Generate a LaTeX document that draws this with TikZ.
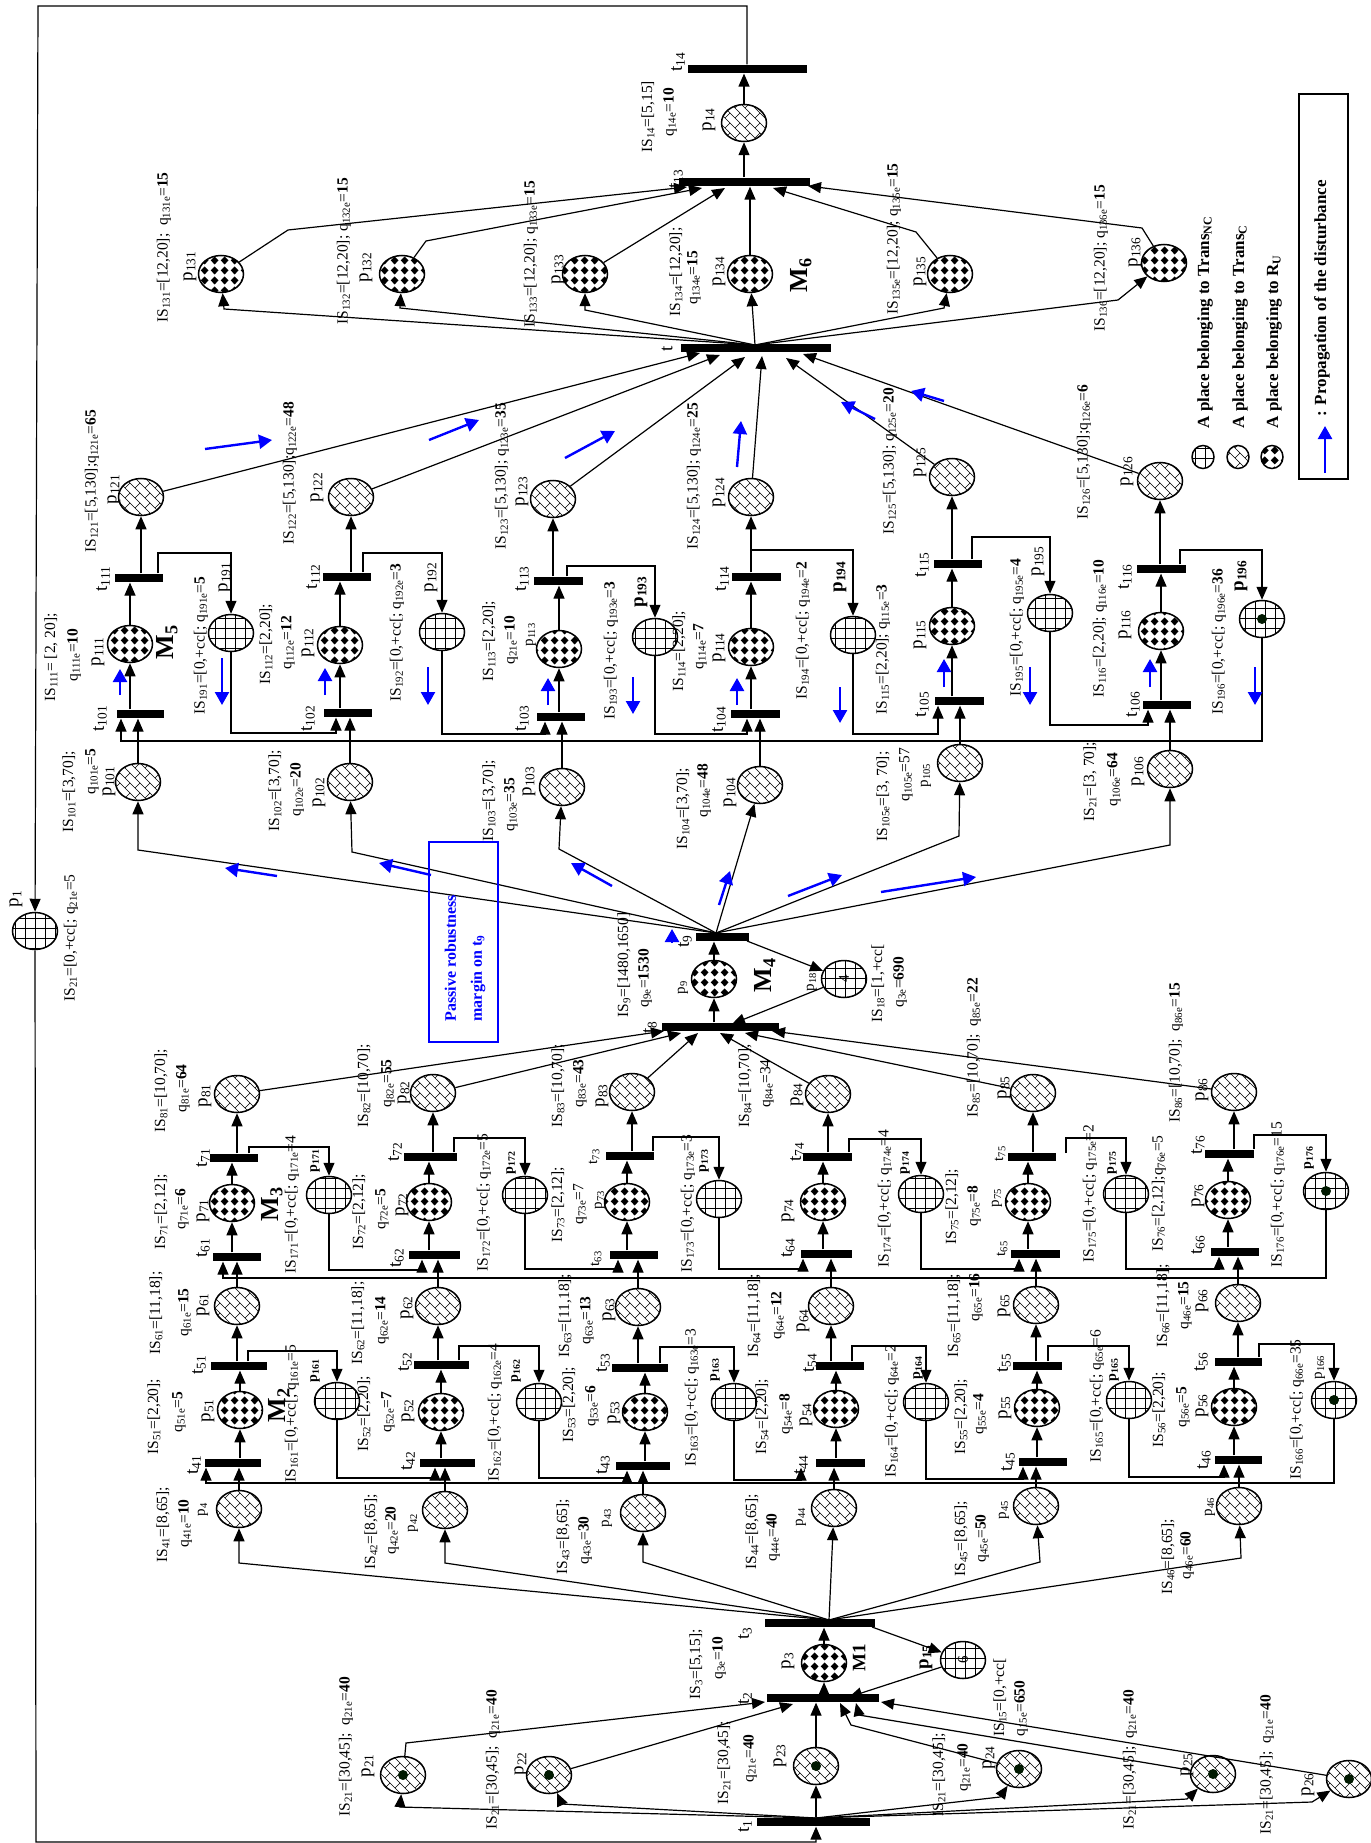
\documentclass[tikz,border=0pt]{standalone}
\usepackage{fontspec}
\setmainfont{Liberation Serif}
\usepackage{tikz}
\usepackage{xcolor}
\usetikzlibrary{arrows.meta}
\usetikzlibrary{patterns}
\usetikzlibrary{shapes.geometric}

\pgfdeclarepatternformonly{cellgrid}{\pgfqpoint{-1pt}{-1pt}}{\pgfqpoint{11pt}{11pt}}{\pgfqpoint{10pt}{10pt}}{
    \pgfsetlinewidth{0.8pt}
    \pgfpathmoveto{\pgfqpoint{0pt}{5pt}}
    \pgfpathlineto{\pgfqpoint{10pt}{5pt}}
    \pgfpathmoveto{\pgfqpoint{5pt}{0pt}}
    \pgfpathlineto{\pgfqpoint{5pt}{10pt}}
    \pgfusepath{stroke}
}
\pgfdeclarepatternformonly{cellbrick}{\pgfqpoint{-1pt}{-1pt}}{\pgfqpoint{11pt}{11pt}}{\pgfqpoint{10pt}{10pt}}{
    \pgfsetlinewidth{0.6pt}
    \pgfpathmoveto{\pgfqpoint{0pt}{10pt}}
    \pgfpathlineto{\pgfqpoint{10pt}{0pt}}
    \pgfpathmoveto{\pgfqpoint{5pt}{5pt}}
    \pgfpathlineto{\pgfqpoint{10pt}{10pt}}
    \pgfusepath{stroke}
}
\pgfdeclarepatternformonly{celldiam}{\pgfqpoint{0pt}{0pt}}{\pgfqpoint{10pt}{9.5pt}}{\pgfqpoint{10pt}{9.5pt}}{
    \pgfpathmoveto{\pgfqpoint{5pt}{0.6pt}}
    \pgfpathlineto{\pgfqpoint{9.2pt}{4.75pt}}
    \pgfpathlineto{\pgfqpoint{5pt}{8.9pt}}
    \pgfpathlineto{\pgfqpoint{0.8pt}{4.75pt}}
    \pgfpathclose
    \pgfusepath{fill}
}
\newcommand{\sbs}[1]{\textsubscript{#1}}

\begin{document}
\begin{tikzpicture}[x=1pt,y=-1pt,>={Triangle[length=13pt,width=11pt]},line width=1.2pt,
    plcbase/.style={ellipse,draw,line width=1.5pt,inner sep=0pt,minimum width=45pt,minimum height=37pt},
    pbrick/.style={plcbase,pattern=cellbrick},
    pcell/.style={plcbase,pattern=cellgrid},
    pdiam/.style={plcbase,pattern=celldiam},
    legbrick/.style={pbrick,minimum width=22pt,minimum height=23pt},
    legcell/.style={pcell,minimum width=22pt,minimum height=23pt},
    legdiam/.style={pdiam,minimum width=22pt,minimum height=23pt},
    marked/.style={path picture={\fill [black!90!green] (path picture bounding box.center) circle (5pt);}},
    tr/.style={rectangle,fill=black,inner sep=0pt,minimum width=#1,minimum height=8pt},
    tr/.default=50pt,
    lbl/.style={rotate=90,anchor=west,inner sep=0pt,font=\fontsize{15.5}{15.5}\selectfont},
    plc/.style={rotate=90,anchor=west,inner sep=0pt,font=\fontsize{19}{19}\selectfont},
    plcs/.style={rotate=90,anchor=west,inner sep=0pt,font=\fontsize{15}{15}\selectfont},
    plcb/.style={rotate=90,anchor=west,inner sep=0pt,font=\fontsize{14}{14}\selectfont\bfseries},
    plcB/.style={rotate=90,anchor=west,inner sep=0pt,font=\fontsize{19}{19}\selectfont\bfseries},
    mach/.style={rotate=90,anchor=west,inner sep=0pt,font=\fontsize{26}{26}\selectfont\bfseries},
    dist/.style={->,blue,line width=2.4pt,>={Triangle[length=13pt,width=14pt]}},
    distbox/.style={draw=blue,rectangle,line width=1.3pt,minimum width=69pt,minimum height=200pt},
    distlbl/.style={rotate=90,anchor=west,inner sep=0pt,blue,align=left,font=\fontsize{16}{26}\selectfont\bfseries},
    leglbl/.style={rotate=90,anchor=west,inner sep=0pt,font=\fontsize{17}{17}\selectfont\bfseries}]
    \useasboundingbox (0,0) rectangle (1370,1843);

    \path (35,931) node [pcell] (p1) {};
    \path (403,1775) node [pbrick,marked] (p21) {};
    \path (549,1775) node [pbrick,marked] (p22) {};
    \path (816,1766) node [pbrick,marked] (p23) {};
    \path (1019,1769) node [pbrick,marked] (p24) {};
    \path (1213,1774) node [pbrick,marked] (p25) {};
    \path (1349,1779) node [pbrick,marked] (p26) {};
    \path (824,1663) node [pdiam] (p3) {};
    \path (963,1660) node [pcell] (p15) {};
    \path (813,1822) node [tr=113pt] (t1) {};
    \path (823,1698) node [tr=112pt] (t2) {};
    \path (820,1623) node [tr=110pt] (t3) {};

    \path (239,1509) node [pbrick] (p41) {};
    \path (445,1510) node [pbrick] (p42) {};
    \path (643,1513) node [pbrick] (p43) {};
    \path (834,1508) node [pbrick] (p44) {};
    \path (1036,1506) node [pbrick] (p45) {};
    \path (1239,1506) node [pbrick] (p46) {};
    \path (233,1463) node [tr=56pt] (t41) {};
    \path (447,1463) node [tr=55pt] (t42) {};
    \path (643,1466) node [tr=54pt] (t43) {};
    \path (840,1463) node [tr=49pt] (t44) {};
    \path (1043,1462) node [tr=48pt] (t45) {};
    \path (1238,1460) node [tr=47pt] (t46) {};

    \path (240,1410) node [pdiam] (p51) {};
    \path (441,1412) node [pdiam] (p52) {};
    \path (645,1412) node [pdiam] (p53) {};
    \path (836,1409) node [pdiam] (p54) {};
    \path (1037,1408) node [pdiam] (p55) {};
    \path (1234,1407) node [pdiam] (p56) {};
    \path (337,1401) node [pcell] (p161) {};
    \path (539,1402) node [pcell] (p162) {};
    \path (734,1402) node [pcell] (p163) {};
    \path (926,1402) node [pcell] (p164) {};
    \path (1129,1400) node [pcell] (p165) {};
    \path (1334,1400) node [pcell,marked] (p166) {};
    \path (239,1366) node [tr=56pt] (t51) {};
    \path (441,1365) node [tr=55pt] (t52) {};
    \path (640,1368) node [tr=56pt] (t53) {};
    \path (840,1366) node [tr=48pt] (t54) {};
    \path (1037,1366) node [tr=49pt] (t55) {};
    \path (1238,1362) node [tr=47pt] (t56) {};

    \path (237,1306) node [pbrick] (p61) {};
    \path (438,1306) node [pbrick] (p62) {};
    \path (638,1307) node [pbrick] (p63) {};
    \path (831,1306) node [pbrick] (p64) {};
    \path (1036,1305) node [pbrick] (p65) {};
    \path (1238,1303) node [pbrick] (p66) {};
    \path (237,1257) node [tr=48pt] (t61) {};
    \path (434,1255) node [tr=51pt] (t62) {};
    \path (634,1255) node [tr=48pt] (t63) {};
    \path (826,1254) node [tr=51pt] (t64) {};
    \path (1035,1254) node [tr=49pt] (t65) {};
    \path (1235,1252) node [tr=48pt] (t66) {};

    \path (232,1203) node [pdiam] (p71) {};
    \path (429,1202) node [pdiam] (p72) {};
    \path (627,1202) node [pdiam] (p73) {};
    \path (823,1202) node [pdiam] (p74) {};
    \path (1028,1202) node [pdiam] (p75) {};
    \path (1228,1200) node [pdiam] (p76) {};
    \path (329,1195) node [pcell] (p171) {};
    \path (525,1195) node [pcell] (p172) {};
    \path (719,1199) node [pcell] (p173) {};
    \path (921,1194) node [pcell] (p174) {};
    \path (1126,1194) node [pcell] (p175) {};
    \path (1326,1191) node [pcell,marked] (p176) {};
    \path (234,1158) node [tr=48pt] (t71) {};
    \path (430,1157) node [tr=53pt] (t72) {};
    \path (630,1156) node [tr=48pt] (t73) {};
    \path (827,1157) node [tr=49pt] (t74) {};
    \path (1032,1157) node [tr=48pt] (t75) {};
    \path (1229,1154) node [tr=49pt] (t76) {};

    \path (237,1094) node [pbrick] (p81) {};
    \path (433,1093) node [pbrick] (p82) {};
    \path (632,1092) node [pbrick] (p83) {};
    \path (828,1094) node [pbrick] (p84) {};
    \path (1033,1093) node [pbrick] (p85) {};
    \path (1234,1092) node [pbrick] (p86) {};
    \path (720,1027) node [tr=117pt] (t8) {};
    \path (714,979) node [pdiam] (p9) {};
    \path (844,979) node [pcell] (p18) {};
    \path (722,937) node [tr=53pt] (t9) {};

    \path (138,782) node [pbrick] (p101) {};
    \path (350,782) node [pbrick] (p102) {};
    \path (562,787) node [pbrick] (p103) {};
    \path (760,785) node [pbrick] (p104) {};
    \path (960,763) node [pbrick] (p105) {};
    \path (1170,769) node [pbrick] (p106) {};
    \path (140,714) node [tr=47pt] (t101) {};
    \path (348,713) node [tr=48pt] (t102) {};
    \path (561,717) node [tr=48pt] (t103) {};
    \path (755,714) node [tr=49pt] (t104) {};
    \path (959,701) node [tr=49pt] (t105) {};
    \path (1167,705) node [tr=48pt] (t106) {};

    \path (130,644) node [pdiam] (p111) {};
    \path (340,645) node [pdiam] (p112) {};
    \path (559,649) node [pdiam] (p113) {};
    \path (751,647) node [pdiam] (p114) {};
    \path (952,626) node [pdiam] (p115) {};
    \path (1161,631) node [pdiam] (p116) {};
    \path (231,633) node [pcell] (p191) {};
    \path (442,632) node [pcell] (p192) {};
    \path (655,637) node [pcell] (p193) {};
    \path (853,635) node [pcell] (p194) {};
    \path (1050,613) node [pcell] (p195) {};
    \path (1262,619) node [pcell,marked] (p196) {};
    \path (139,578) node [tr=48pt] (t111) {};
    \path (347,577) node [tr=48pt] (t112) {};
    \path (558,581) node [tr=49pt] (t113) {};
    \path (756,577) node [tr=49pt] (t114) {};
    \path (958,564) node [tr=48pt] (t115) {};
    \path (1161,569) node [tr=49pt] (t116) {};

    \path (141,497) node [pbrick] (p121) {};
    \path (351,497) node [pbrick] (p122) {};
    \path (553,499) node [pbrick] (p123) {};
    \path (751,497) node [pbrick] (p124) {};
    \path (952,477) node [pbrick] (p125) {};
    \path (1160,481) node [pbrick] (p126) {};
    \path (756,348) node [tr=150pt] (t12) {};

    \path (221,274) node [pdiam] (p131) {};
    \path (402,274) node [pdiam] (p132) {};
    \path (585,274) node [pdiam] (p133) {};
    \path (750,274) node [pdiam] (p134) {};
    \path (950,274) node [pdiam] (p135) {};
    \path (1164,263) node [pdiam] (p136) {};
    \path (744,182) node [tr=131pt] (t13) {};
    \path (744,123) node [pbrick] (p14) {};
    \path (747,69) node [tr=119pt] (t14) {};

    \path (816,1842) coordinate (lo1) (36,1842) coordinate (lo2);
    \path (747,6) coordinate (hi1) (38,6) coordinate (hi2);
    \draw [->] (p1) -- (lo2) -- (lo1) -- (lo1 |- t1.south);
    \draw [->] (t14) -- (hi1) -- (hi2) -- (p1);

    \path (816,1818) coordinate (o1);
    \path (400,1807) coordinate (b21) (562,1804) coordinate (b22);
    \path (1000,1797) coordinate (b24) (1187,1799) coordinate (b25) (1312,1802) coordinate (b26);
    \draw [->] (o1) -- (b21) -- (p21);
    \draw [->] (o1) -- (b22) -- (p22);
    \draw [->] (t1.north -| p23) -- (p23);
    \draw [->] (o1) -- (b24) -- (p24);
    \draw [->] (o1) -- (b25) -- (p25);
    \draw [->] (o1) -- (b26) -- (p26);

    \path (406,1743) coordinate (c21) (765,1702) coordinate (d21);
    \path (793,1704) coordinate (d22);
    \path (851,1725) coordinate (c24) (840,1703) coordinate (d24);
    \path (859,1715) coordinate (c25) (856,1703) coordinate (d25);
    \path (881,1702) coordinate (d26) (849,1697) coordinate (d15);
    \draw [->] (p21) -- (c21) -- (d21);
    \draw [->] (p22) -- (d22);
    \draw [->] (p23) -- (p23 |- t2.south);
    \draw [->] (p24) -- (c24) -- (d24);
    \draw [->] (p25) -- (c25) -- (d25);
    \draw [->] (p26) -- (d26);
    \draw [->] (p15) -- (d15);
    \draw [->] (t2.north -| p3) -- (p3);
    \draw [->] (p3) -- (p3 |- t3.south);
    \path (872,1627) coordinate (o15);
    \draw [->] (o15) -- (p15);

    \path (829,1620) coordinate (o3);
    \path (239,1563) coordinate (b41) (445,1563) coordinate (b42) (643,1562) coordinate (b43);
    \path (1040,1562) coordinate (b45) (1241,1558) coordinate (b46);
    \draw [->] (o3) -- (b41) -- (p41);
    \draw [->] (o3) -- (b42) -- (p42);
    \draw [->] (o3) -- (b43) -- (p43);
    \draw [->] (o3) -- (p44);
    \draw [->] (o3) -- (b45) -- (p45);
    \draw [->] (o3) -- (b46) -- (p46);

    \draw [->] (p41) -- (p41 |- t41.south);
    \draw [->] (p42) -- (p42 |- t42.south);
    \draw [->] (p43) -- (p43 |- t43.south);
    \draw [->] (p44) -- (p44 |- t44.south);
    \draw [->] (p45) -- (p45 |- t45.south);
    \draw [->] (p46) -- (p46 |- t46.south);
    \draw [->] (t41.north -| p51) -- (p51);
    \draw [->] (t42.north -| p52) -- (p52);
    \draw [->] (t43.north -| p53) -- (p53);
    \draw [->] (t44.north -| p54) -- (p54);
    \draw [->] (t45.north -| p55) -- (p55);
    \draw [->] (t46.north -| p56) -- (p56);
    \draw [->] (p51) -- (p51 |- t51.south);
    \draw [->] (p52) -- (p52 |- t52.south);
    \draw [->] (p53) -- (p53 |- t53.south);
    \draw [->] (p54) -- (p54 |- t54.south);
    \draw [->] (p55) -- (p55 |- t55.south);
    \draw [->] (p56) -- (p56 |- t56.south);

    \path (206,1483) coordinate (r4);
    \path (435,1478) coordinate (g42) (627,1478) coordinate (g43) (801,1480) coordinate (g44);
    \path (1023,1479) coordinate (g45) (1224,1477) coordinate (g46);
    \draw [->] (p166) |- (r4) -- (r4 |- t41.south);
    \draw [->] (p161) |- (g42) -- (g42 |- t42.south);
    \draw [->] (p162) |- (g43) -- (g43 |- t43.south);
    \draw [->] (p163) |- (g44) -- (g44 |- t44.south);
    \draw [->] (p164) |- (g45) -- (g45 |- t45.south);
    \draw [->] (p165) |- (g46) -- (g46 |- t46.south);

    \path (248,1351) coordinate (f51) (459,1346) coordinate (f52) (660,1347) coordinate (f53);
    \path (852,1346) coordinate (f54) (1048,1346) coordinate (f55) (1259,1344) coordinate (f56);
    \draw [->] (t51.north -| f51) -- (f51) -| (p161);
    \draw [->] (t52.north -| f52) -- (f52) -| (p162);
    \draw [->] (t53.north -| f53) -- (f53) -| (p163);
    \draw [->] (t54.north -| f54) -- (f54) -| (p164);
    \draw [->] (t55.north -| f55) -- (f55) -| (p165);
    \draw [->] (t56.north -| f56) -- (f56) -| (p166);

    \draw [->] (t51.north -| p61) -- (p61);
    \draw [->] (t52.north -| p62) -- (p62);
    \draw [->] (t53.north -| p63) -- (p63);
    \draw [->] (t54.north -| p64) -- (p64);
    \draw [->] (t55.north -| p65) -- (p65);
    \draw [->] (t56.north -| p66) -- (p66);
    \draw [->] (p61) -- (p61 |- t61.south);
    \draw [->] (p62) -- (p62 |- t62.south);
    \draw [->] (p63) -- (p63 |- t63.south);
    \draw [->] (p64) -- (p64 |- t64.south);
    \draw [->] (p65) -- (p65 |- t65.south);
    \draw [->] (p66) -- (p66 |- t66.south);
    \draw [->] (t61.north -| p71) -- (p71);
    \draw [->] (t62.north -| p72) -- (p72);
    \draw [->] (t63.north -| p73) -- (p73);
    \draw [->] (t64.north -| p74) -- (p74);
    \draw [->] (t65.north -| p75) -- (p75);
    \draw [->] (t66.north -| p76) -- (p76);
    \draw [->] (p71) -- (p71 |- t71.south);
    \draw [->] (p72) -- (p72 |- t72.south);
    \draw [->] (p73) -- (p73 |- t73.south);
    \draw [->] (p74) -- (p74 |- t74.south);
    \draw [->] (p75) -- (p75 |- t75.south);
    \draw [->] (p76) -- (p76 |- t76.south);

    \path (223,1278) coordinate (r6);
    \path (422,1270) coordinate (g62) (618,1269) coordinate (g63) (803,1269) coordinate (g64);
    \path (1019,1269) coordinate (g65) (1219,1269) coordinate (g66);
    \draw [->] (p176) |- (r6) -- (r6 |- t61.south);
    \draw [->] (p171) |- (g62) -- (g62 |- t62.south);
    \draw [->] (p172) |- (g63) -- (g63 |- t63.south);
    \draw [->] (p173) |- (g64) -- (g64 |- t64.south);
    \draw [->] (p174) |- (g65) -- (g65 |- t65.south);
    \draw [->] (p175) |- (g66) -- (g66 |- t66.south);

    \path (249,1147) coordinate (f71) (454,1138) coordinate (f72) (653,1137) coordinate (f73);
    \path (849,1139) coordinate (f74) (1066,1138) coordinate (f75) (1254,1135) coordinate (f76);
    \path (1066,1153) coordinate (e75);
    \draw [->] (t71.north -| f71) -- (f71) -| (p171);
    \draw [->] (t72.north -| f72) -- (f72) -| (p172);
    \draw [->] (t73.north -| f73) -- (f73) -| (p173);
    \draw [->] (t74.north -| f74) -- (f74) -| (p174);
    \draw [->] (e75) -- (f75) -| (p175);
    \draw [->] (t76.north -| f76) -- (f76) -| (p176);

    \draw [->] (t71.north -| p81) -- (p81);
    \draw [->] (t72.north -| p82) -- (p82);
    \draw [->] (t73.north -| p83) -- (p83);
    \draw [->] (t74.north -| p84) -- (p84);
    \draw [->] (t75.north -| p85) -- (p85);
    \draw [->] (t76.north -| p86) -- (p86);

    \path (664,1031) coordinate (d81) (681,1033) coordinate (d82) (698,1033) coordinate (d83);
    \path (720,1033) coordinate (d84) (745,1033) coordinate (d85) (772,1031) coordinate (d86);
    \draw [->] (p81) -- (d81);
    \draw [->] (p82) -- (d82);
    \draw [->] (p83) -- (d83);
    \draw [->] (p84) -- (d84);
    \draw [->] (p85) -- (d85);
    \draw [->] (p86) -- (d86);
    \draw [->] (t8.north -| p9) -- (p9);
    \draw [->] (p9) -- (p9 |- t9.south);
    \path (747,941) coordinate (o18) (732,1024) coordinate (d18);
    \draw [->] (o18) -- (p18);
    \draw [->] (p18) -- (d18);

    \path (716,933) coordinate (o9);
    \path (138,850) coordinate (b101) (352,852) coordinate (b102) (559,849) coordinate (b103);
    \path (959,836) coordinate (b105) (1170,845) coordinate (b106);
    \draw [->] (o9) -- (b101) -- (p101);
    \draw [->] (o9) -- (b102) -- (p102);
    \draw [->] (o9) -- (b103) -- (p103);
    \draw [->] (o9) -- (p104);
    \draw [->] (o9) -- (b105) -- (p105);
    \draw [->] (o9) -- (b106) -- (p106);

    \draw [->] (p101) -- (p101 |- t101.south);
    \draw [->] (p102) -- (p102 |- t102.south);
    \draw [->] (p103) -- (p103 |- t103.south);
    \draw [->] (p104) -- (p104 |- t104.south);
    \draw [->] (p105) -- (p105 |- t105.south);
    \draw [->] (p106) -- (p106 |- t106.south);
    \draw [->] (t101.north -| p111) -- (p111);
    \draw [->] (t102.north -| p112) -- (p112);
    \draw [->] (t103.north -| p113) -- (p113);
    \draw [->] (t104.north -| p114) -- (p114);
    \draw [->] (t105.north -| p115) -- (p115);
    \draw [->] (t106.north -| p116) -- (p116);
    \draw [->] (p111) -- (p111 |- t111.south);
    \draw [->] (p112) -- (p112 |- t112.south);
    \draw [->] (p113) -- (p113 |- t113.south);
    \draw [->] (p114) -- (p114 |- t114.south);
    \draw [->] (p115) -- (p115 |- t115.south);
    \draw [->] (p116) -- (p116 |- t116.south);

    \path (121,741) coordinate (r10);
    \path (336,733) coordinate (g102) (545,734) coordinate (g103) (747,734) coordinate (g104);
    \path (938,734) coordinate (g105) (1148,725) coordinate (g106);
    \draw [->] (p196) |- (r10) -- (r10 |- t101.south);
    \draw [->] (p191) |- (g102) -- (g102 |- t102.south);
    \draw [->] (p192) |- (g103) -- (g103 |- t103.south);
    \draw [->] (p193) |- (g104) -- (g104 |- t104.south);
    \draw [->] (p194) |- (g105) -- (g105 |- t105.south);
    \draw [->] (p195) |- (g106) -- (g106 |- t106.south);

    \path (158,553) coordinate (f111) (363,553) coordinate (f112) (567,566) coordinate (f113);
    \path (751,550) coordinate (f114) (972,537) coordinate (f115) (1180,550) coordinate (f116);
    \draw [->] (t111.north -| f111) -- (f111) -| (p191);
    \draw [->] (t112.north -| f112) -- (f112) -| (p192);
    \draw [->] (t113.north -| f113) -- (f113) -| (p193);
    \draw [->] (t114.north -| f114) -- (f114) -| (p194);
    \draw [->] (t115.north -| f115) -- (f115) -| (p195);
    \draw [->] (t116.north -| f116) -- (f116) -| (p196);

    \draw [->] (t111.north -| p121) -- (p121);
    \draw [->] (t112.north -| p122) -- (p122);
    \draw [->] (t113.north -| p123) -- (p123);
    \draw [->] (t114.north -| p124) -- (p124);
    \draw [->] (t115.north -| p125) -- (p125);
    \draw [->] (t116.north -| p126) -- (p126);

    \path (700,353) coordinate (d121) (720,355) coordinate (d122) (745,357) coordinate (d123);
    \path (762,356) coordinate (d124) (786,358) coordinate (d125) (803,354) coordinate (d126);
    \draw [->] (p121) -- (d121);
    \draw [->] (p122) -- (d122);
    \draw [->] (p123) -- (d123);
    \draw [->] (p124) -- (d124);
    \draw [->] (p125) -- (d125);
    \draw [->] (p126) -- (d126);

    \path (755,345) coordinate (o12);
    \path (224,309) coordinate (b131) (400,308) coordinate (b132) (585,310) coordinate (b133);
    \path (944,308) coordinate (b135) (1118,300) coordinate (b136);
    \draw [->] (o12) -- (b131) -- (p131);
    \draw [->] (o12) -- (b132) -- (p132);
    \draw [->] (o12) -- (b133) -- (p133);
    \draw [->] (o12) -- (p134);
    \draw [->] (o12) -- (b135) -- (p135);
    \draw [->] (o12) -- (b136) -- (p136);

    \path (288,230) coordinate (c131) (687,187) coordinate (d131);
    \path (426,241) coordinate (c132) (702,188) coordinate (d132);
    \path (725,188) coordinate (d133) (916,232) coordinate (c135) (773,188) coordinate (d135);
    \path (1142,228) coordinate (c136) (808,186) coordinate (d136);
    \draw [->] (p131) -- (c131) -- (d131);
    \draw [->] (p132) -- (c132) -- (d132);
    \draw [->] (p133) -- (d133);
    \draw [->] (p134) -- (p134 |- t13.south);
    \draw [->] (p135) -- (c135) -- (d135);
    \draw [->] (p136) -- (c136) -- (d136);
    \draw [->] (t13.north -| p14) -- (p14);
    \draw [->] (p14) -- (p14 |- t14.south);

    \path (16,908) node [plc] (n1) {p\sbs{1}};
    \path (71,1002) node [lbl] (i1) {IS\sbs{21}=[0,+cc[; q\sbs{21e}=5};
    \path (346,1817) node [lbl] (i21) {IS\sbs{21}=[30,45]; \ q\sbs{21e}=\textbf{40}};
    \path (368,1778) node [plc] (n21) {p\sbs{21}};
    \path (493,1830) node [lbl] (i22) {IS\sbs{21}=[30,45]; \ q\sbs{21e}=\textbf{40}};
    \path (521,1776) node [plc] (n22) {p\sbs{22}};
    \path (724,1805) node [lbl] (i23) {IS\sbs{21}=[30,45];};
    \path (750,1783) node [lbl] (q23) {q\sbs{21e}=\textbf{40}};
    \path (780,1768) node [plc] (n23) {p\sbs{23}};
    \path (939,1817) node [lbl] (i24) {IS\sbs{21}=[30,45];};
    \path (964,1792) node [lbl] (q24) {q\sbs{21e}=\textbf{40}};
    \path (989,1770) node [plc] (n24) {p\sbs{24}};
    \path (1000,1737) node [lbl] (i15) {IS\sbs{15}=[0,+cc[};
    \path (1021,1737) node [lbl] (q15) {q\sbs{15e}=\textbf{650}};
    \path (1130,1830) node [lbl] (i25) {IS\sbs{21}=[30,45]; \ q\sbs{21e}=\textbf{40}};
    \path (1187,1777) node [plc] (n25) {p\sbs{25}};
    \path (1267,1835) node [lbl] (i26) {IS\sbs{21}=[30,45]; \ q\sbs{21e}=\textbf{40}};
    \path (1308,1797) node [plc] (n26) {p\sbs{26}};
    \path (745,1833) node [plc] (l1) {t\sbs{1}};
    \path (745,1705) node [plc] (l2) {t\sbs{2}};
    \path (745,1640) node [plc] (l3) {t\sbs{3}};
    \path (696,1700) node [lbl] (i3) {IS\sbs{3}=[5,15];};
    \path (719,1680) node [lbl] (q3) {q\sbs{3e}=\textbf{10}};
    \path (788,1670) node [plc] (n3) {p\sbs{3}};
    \path (859,1672) node [plc] (m1) {\textbf{M1}};
    \path (926,1670) node [plcB] (n15) {p\sbs{15}};
    \path (963,1660) node [plcs,anchor=center] (v15) {6};

    \path (163,1563) node [lbl] (i41) {IS\sbs{41}=[8,65];};
    \path (185,1548) node [lbl] (q41) {q\sbs{41e}=\textbf{10}};
    \path (203,1517) node [plcs] (n41) {p\sbs{4}};
    \path (194,1475) node [plc] (l41) {t\sbs{41}};
    \path (371,1570) node [lbl] (i42) {IS\sbs{42}=[8,65];};
    \path (392,1555) node [lbl] (q42) {q\sbs{42e}=\textbf{20}};
    \path (413,1533) node [plcs] (n42) {p\sbs{42}};
    \path (408,1471) node [plc] (l42) {t\sbs{42}};
    \path (563,1575) node [lbl] (i43) {IS\sbs{43}=[8,65];};
    \path (585,1565) node [lbl] (q43) {q\sbs{43e}=\textbf{30}};
    \path (607,1528) node [plcs] (n43) {p\sbs{43}};
    \path (603,1475) node [plc] (l43) {t\sbs{43}};
    \path (752,1570) node [lbl] (i44) {IS\sbs{44}=[8,65];};
    \path (773,1562) node [lbl] (q44) {q\sbs{44e}=\textbf{40}};
    \path (801,1527) node [plcs] (n44) {p\sbs{44}};
    \path (801,1475) node [plc] (l44) {t\sbs{44}};
    \path (961,1577) node [lbl] (i45) {IS\sbs{45}=[8,65];};
    \path (982,1563) node [lbl] (q45) {q\sbs{45e}=\textbf{50}};
    \path (1004,1520) node [plcs] (n45) {p\sbs{45}};
    \path (1008,1472) node [plc] (l45) {t\sbs{45}};
    \path (1168,1595) node [lbl] (i46) {IS\sbs{46}=[8,65];};
    \path (1187,1580) node [lbl] (q46) {q\sbs{46e}=\textbf{60}};
    \path (1210,1517) node [plcs] (n46) {p\sbs{46}};
    \path (1204,1470) node [plc] (l46) {t\sbs{46}};

    \path (154,1455) node [lbl] (i51) {IS\sbs{51}=[2,20];};
    \path (179,1433) node [lbl] (q51) {q\sbs{51e}=\textbf{5}};
    \path (208,1423) node [plc] (n51) {p\sbs{51}};
    \path (279,1423) node [mach] (m2) {M\sbs{2}};
    \path (199,1375) node [plc] (l51) {t\sbs{51}};
    \path (292,1483) node [lbl] (i161) {IS\sbs{161}=[0,+cc[; q\sbs{161e}=5};
    \path (315,1383) node [plcb] (n161) {p\sbs{161}};
    \path (364,1452) node [lbl] (i52) {IS\sbs{52}=[2,20];};
    \path (388,1433) node [lbl] (q52) {q\sbs{52e}=\textbf{7}};
    \path (408,1423) node [plc] (n52) {p\sbs{52}};
    \path (405,1372) node [plc] (l52) {t\sbs{52}};
    \path (495,1482) node [lbl] (i162) {IS\sbs{162}=[0,+cc[; q\sbs{162e}=4};
    \path (516,1383) node [plcb] (n162) {p\sbs{162}};
    \path (569,1443) node [lbl] (i53) {IS\sbs{53}=[2,20];};
    \path (592,1427) node [lbl] (q53) {q\sbs{53e}=\textbf{6}};
    \path (614,1425) node [plc] (n53) {p\sbs{53}};
    \path (603,1373) node [plc] (l53) {t\sbs{53}};
    \path (692,1467) node [lbl] (i163) {IS\sbs{163}=[0,+cc[; q\sbs{163e}=3};
    \path (715,1382) node [plcb] (n163) {p\sbs{163}};
    \path (762,1455) node [lbl] (i54) {IS\sbs{54}=[2,20];};
    \path (786,1435) node [lbl] (q54) {q\sbs{54e}=\textbf{8}};
    \path (806,1427) node [plc] (n54) {p\sbs{54}};
    \path (810,1373) node [plc] (l54) {t\sbs{54}};
    \path (892,1478) node [lbl] (i164) {IS\sbs{164}=[0,+cc[; q\sbs{64e}=2};
    \path (918,1380) node [plcb] (n164) {p\sbs{164}};
    \path (961,1455) node [lbl] (i55) {IS\sbs{55}=[2,20];};
    \path (980,1435) node [lbl] (q55) {q\sbs{55e}=\textbf{4}};
    \path (1005,1420) node [plc] (n55) {p\sbs{55}};
    \path (1004,1373) node [plc] (l55) {t\sbs{55}};
    \path (1097,1463) node [lbl] (i165) {IS\sbs{165}=[0,+cc[; q\sbs{65e}=6};
    \path (1114,1382) node [plcb] (n165) {p\sbs{165}};
    \path (1159,1448) node [lbl] (i56) {IS\sbs{56}=[2,20];};
    \path (1183,1428) node [lbl] (q56) {q\sbs{56e}=\textbf{5}};
    \path (1202,1418) node [plc] (n56) {p\sbs{56}};
    \path (1201,1372) node [plc] (l56) {t\sbs{56}};
    \path (1297,1480) node [lbl] (i166) {IS\sbs{166}=[0,+cc[; q\sbs{66e}=35};
    \path (1320,1380) node [plcs] (n166) {p\sbs{166}};

    \path (156,1355) node [lbl] (i61) {IS\sbs{61}=[11,18];};
    \path (185,1337) node [lbl] (q61) {q\sbs{61e}=\textbf{15}};
    \path (203,1317) node [plc] (n61) {p\sbs{61}};
    \path (203,1258) node [plc] (l61) {t\sbs{61}};
    \path (358,1365) node [lbl] (i62) {IS\sbs{62}=[11,18];};
    \path (382,1345) node [lbl] (q62) {q\sbs{62e}=\textbf{14}};
    \path (407,1320) node [plc] (n62) {p\sbs{62}};
    \path (397,1268) node [plc] (l62) {t\sbs{62}};
    \path (565,1358) node [lbl] (i63) {IS\sbs{63}=[11,18];};
    \path (587,1345) node [lbl] (q63) {q\sbs{63e}=\textbf{13}};
    \path (609,1322) node [plc] (n63) {p\sbs{63}};
    \path (596,1267) node [plcs] (l63) {t\sbs{63}};
    \path (754,1358) node [lbl] (i64) {IS\sbs{64}=[11,18];};
    \path (778,1340) node [lbl] (q64) {q\sbs{64e}=\textbf{12}};
    \path (803,1333) node [plc] (n64) {p\sbs{64}};
    \path (788,1258) node [plc] (l64) {t\sbs{64}};
    \path (954,1358) node [lbl] (i65) {IS\sbs{65}=[11,18];};
    \path (976,1322) node [lbl] (q65) {q\sbs{65e}=\textbf{16}};
    \path (1004,1318) node [plc] (n65) {p\sbs{65}};
    \path (1002,1257) node [plcs] (l65) {t\sbs{65}};
    \path (1163,1348) node [lbl] (i66) {IS\sbs{66}=[11,18];};
    \path (1185,1330) node [lbl] (q66) {q\sbs{46e}=\textbf{15}};
    \path (1202,1313) node [plc] (n66) {p\sbs{66}};
    \path (1198,1255) node [plc] (l66) {t\sbs{66}};

    \path (161,1250) node [lbl] (i71) {IS\sbs{71}=[2,12];};
    \path (182,1230) node [lbl] (q71) {q\sbs{71e}=\textbf{6}};
    \path (203,1223) node [plc] (n71) {p\sbs{71}};
    \path (272,1222) node [mach] (m3) {M\sbs{3}};
    \path (203,1168) node [plc] (l71) {t\sbs{71}};
    \path (292,1274) node [lbl] (i171) {IS\sbs{171}=[0,+cc[; q\sbs{171e}=4};
    \path (315,1173) node [plcb] (n171) {p\sbs{171}};
    \path (359,1250) node [lbl] (i72) {IS\sbs{72}=[2,12];};
    \path (382,1230) node [lbl] (q72) {q\sbs{72e}=\textbf{5}};
    \path (402,1217) node [plc] (n72) {p\sbs{72}};
    \path (395,1162) node [plc] (l72) {t\sbs{72}};
    \path (484,1272) node [lbl] (i172) {IS\sbs{172}=[0,+cc[; q\sbs{172e}=5};
    \path (511,1175) node [plcb] (n172) {p\sbs{172}};
    \path (558,1243) node [lbl] (i73) {IS\sbs{73}=[2,12];};
    \path (580,1225) node [lbl] (q73) {q\sbs{73e}=7};
    \path (600,1210) node [plcs] (n73) {p\sbs{73}};
    \path (594,1165) node [plcs] (l73) {t\sbs{73}};
    \path (688,1273) node [lbl] (i173) {IS\sbs{173}=[0,+cc[; q\sbs{173e}=3};
    \path (704,1173) node [plcb] (n173) {p\sbs{173}};
    \path (788,1223) node [plc] (n74) {p\sbs{74}};
    \path (797,1162) node [plc] (l74) {t\sbs{74}};
    \path (885,1268) node [lbl] (i174) {IS\sbs{174}=[0,+cc[; q\sbs{174e}=4};
    \path (905,1175) node [plcb] (n174) {p\sbs{174}};
    \path (952,1245) node [lbl] (i75) {IS\sbs{75}=[2,12];};
    \path (974,1227) node [lbl] (q75) {q\sbs{75e}=\textbf{8}};
    \path (997,1208) node [plcs] (n75) {p\sbs{75}};
    \path (1000,1162) node [plcs] (l75) {t\sbs{75}};
    \path (1090,1263) node [lbl] (i175) {IS\sbs{175}=[0,+cc[; q\sbs{175e}=2};
    \path (1112,1175) node [plcb] (n175) {p\sbs{175}};
    \path (1159,1252) node [lbl] (i76) {IS\sbs{76}=[2,12];q\sbs{76e}=5};
    \path (1198,1208) node [plc] (n76) {p\sbs{76}};
    \path (1198,1155) node [plc] (l76) {t\sbs{76}};
    \path (1278,1268) node [lbl] (i176) {IS\sbs{176}=[0,+cc[; q\sbs{176e}=15};
    \path (1309,1170) node [plcb] (n176) {p\sbs{176}};

    \path (161,1133) node [lbl] (i81) {IS\sbs{81}=[10,70];};
    \path (183,1113) node [lbl] (q81) {q\sbs{81e}=\textbf{64}};
    \path (205,1108) node [plc] (n81) {p\sbs{81}};
    \path (364,1128) node [lbl] (i82) {IS\sbs{82}=[10,70];};
    \path (388,1108) node [lbl] (q82) {q\sbs{82e}=\textbf{55}};
    \path (404,1105) node [plc] (n82) {p\sbs{82}};
    \path (558,1128) node [lbl] (i83) {IS\sbs{83}=[10,70];};
    \path (580,1108) node [lbl] (q83) {q\sbs{83e}=\textbf{43}};
    \path (602,1108) node [plc] (n83) {p\sbs{83}};
    \path (745,1128) node [lbl] (i84) {IS\sbs{84}=[10,70];};
    \path (767,1108) node [lbl] (q84) {q\sbs{84e}=34};
    \path (797,1107) node [plc] (n84) {p\sbs{84}};
    \path (974,1118) node [lbl] (i85) {IS\sbs{85}=[10,70]; \ q\sbs{85e}=\textbf{22}};
    \path (1004,1100) node [plc] (n85) {p\sbs{85}};
    \path (1176,1123) node [lbl] (i86) {IS\sbs{86}=[10,70]; \ q\sbs{86e}=\textbf{15}};
    \path (1202,1102) node [plc] (n86) {p\sbs{86}};

    \path (650,1034) node [plc] (l8) {t\sbs{8}};
    \path (624,1018) node [lbl] (i9) {IS\sbs{9}=[1480,1650]};
    \path (645,1008) node [lbl] (q9) {q\sbs{9e}=\textbf{1530}};
    \path (683,995) node [plcs] (n9) {p\sbs{9}};
    \path (685,948) node [plc] (l9) {t\sbs{9}};
    \path (765,993) node [mach] (m4) {M\sbs{4}};
    \path (812,992) node [plcs] (n18) {p\sbs{18}};
    \path (844,979) node [plcs,anchor=center] (v18) {4};
    \path (878,1023) node [lbl] (i18) {IS\sbs{18}=[1,+cc[};
    \path (900,1008) node [lbl] (q18) {q\sbs{3e}=\textbf{690}};

    \path (69,833) node [lbl] (i101) {IS\sbs{101}=[3,70];};
    \path (92,795) node [lbl] (q101) {q\sbs{101e}=\textbf{5}};
    \path (109,797) node [plc] (n101) {p\sbs{101}};
    \path (100,732) node [plc] (l101) {t\sbs{101}};
    \path (275,832) node [lbl] (i102) {IS\sbs{102}=[3,70];};
    \path (297,817) node [lbl] (q102) {q\sbs{102e}=\textbf{20}};
    \path (319,808) node [plc] (n102) {p\sbs{102}};
    \path (308,732) node [plc] (l102) {t\sbs{102}};
    \path (489,842) node [lbl] (i103) {IS\sbs{103}=[3,70];};
    \path (511,832) node [lbl] (q103) {q\sbs{103e}=\textbf{35}};
    \path (529,797) node [plc] (n103) {p\sbs{103}};
    \path (522,732) node [plc] (l103) {t\sbs{103}};
    \path (683,850) node [lbl] (i104) {IS\sbs{104}=[3,70];};
    \path (704,818) node [lbl] (q104) {q\sbs{104e}=\textbf{48}};
    \path (730,808) node [plc] (n104) {p\sbs{104}};
    \path (719,733) node [plc] (l104) {t\sbs{104}};
    \path (883,842) node [lbl] (i105) {IS\sbs{105e}=[3, 70];};
    \path (906,802) node [lbl] (q105) {q\sbs{105e}=57};
    \path (926,788) node [plcs] (n105) {p\sbs{105}};
    \path (922,718) node [plc] (l105) {t\sbs{105}};
    \path (1090,822) node [lbl] (i106) {IS\sbs{21}=[3, 70];};
    \path (1114,807) node [lbl] (q106) {q\sbs{106e}=\textbf{64}};
    \path (1138,787) node [plc] (n106) {p\sbs{106}};
    \path (1133,718) node [plc] (l106) {t\sbs{106}};

    \path (51,702) node [lbl] (i111) {IS\sbs{111}= [2, 20];};
    \path (74,682) node [lbl] (q111) {q\sbs{111e}=\textbf{10}};
    \path (98,667) node [plc] (n111) {p\sbs{111}};
    \path (167,660) node [mach] (m5) {M\sbs{5}};
    \path (103,592) node [plc] (l111) {t\sbs{111}};
    \path (201,715) node [lbl] (i191) {IS\sbs{191}=[0,+cc[; q\sbs{191e}=\textbf{5}};
    \path (225,593) node [plc] (n191) {p\sbs{191}};
    \path (266,685) node [lbl] (i112) {IS\sbs{112}=[2,20];};
    \path (288,670) node [lbl] (q112) {q\sbs{112e}=\textbf{12}};
    \path (308,658) node [plc] (n112) {p\sbs{112}};
    \path (313,590) node [plc] (l112) {t\sbs{112}};
    \path (397,702) node [lbl] (i192) {IS\sbs{192}=[0,+cc[; q\sbs{192e}=\textbf{3}};
    \path (431,593) node [plc] (n192) {p\sbs{192}};
    \path (489,682) node [lbl] (i113) {IS\sbs{113}=[2,20];};
    \path (511,665) node [lbl] (q113) {q\sbs{21e}=\textbf{10}};
    \path (531,647) node [plcs] (n113) {p\sbs{113}};
    \path (522,592) node [plc] (l113) {t\sbs{113}};
    \path (611,720) node [lbl] (i193) {IS\sbs{193}=[0,+cc[; q\sbs{193e}=\textbf{3}};
    \path (641,608) node [plcB] (n193) {p\sbs{193}};
    \path (679,692) node [lbl] (i114) {IS\sbs{114}=[2,20];};
    \path (700,670) node [lbl] (q114) {q\sbs{114e}=\textbf{7}};
    \path (719,663) node [plc] (n114) {p\sbs{114}};
    \path (722,592) node [plc] (l114) {t\sbs{114}};
    \path (803,700) node [lbl] (i194) {IS\sbs{194}=[0,+cc[; q\sbs{194e}=\textbf{2}};
    \path (840,593) node [plcB] (n194) {p\sbs{194}};
    \path (883,715) node [lbl] (i115) {IS\sbs{115}=[2,20]; q\sbs{115e}=\textbf{3}};
    \path (920,650) node [plc] (n115) {p\sbs{115}};
    \path (922,578) node [plc] (l115) {t\sbs{115}};
    \path (1017,697) node [lbl] (i195) {IS\sbs{195}=[0,+cc[; q\sbs{195e}=\textbf{4}};
    \path (1038,577) node [plc] (n195) {p\sbs{195}};
    \path (1100,698) node [lbl] (i116) {IS\sbs{116}=[2,20]; q\sbs{116e}=\textbf{10}};
    \path (1125,640) node [plc] (n116) {p\sbs{116}};
    \path (1125,590) node [plc] (l116) {t\sbs{116}};
    \path (1219,715) node [lbl] (i196) {IS\sbs{196}=[0,+cc[; q\sbs{196e}=\textbf{36}};
    \path (1241,592) node [plcB] (n196) {p\sbs{196}};

    \path (92,553) node [lbl] (i121) {IS\sbs{121}=[5,130];q\sbs{121e}=\textbf{65}};
    \path (114,505) node [plc] (n121) {p\sbs{121}};
    \path (290,545) node [lbl] (i122) {IS\sbs{122}=[5,130];q\sbs{122e}=\textbf{48}};
    \path (317,503) node [plc] (n122) {p\sbs{122}};
    \path (502,550) node [lbl] (i123) {IS\sbs{123}=[5,130]; q\sbs{123e}=\textbf{35}};
    \path (522,507) node [plc] (n123) {p\sbs{123}};
    \path (694,550) node [lbl] (i124) {IS\sbs{124}=[5,130]; q\sbs{124e}=\textbf{25}};
    \path (719,508) node [plc] (n124) {p\sbs{124}};
    \path (890,535) node [lbl] (i125) {IS\sbs{125}=[5,130]; q\sbs{125e}=\textbf{20}};
    \path (920,478) node [plc] (n125) {p\sbs{125}};
    \path (1084,520) node [lbl] (i126) {IS\sbs{126}=[5,130];q\sbs{126e}=\textbf{6}};
    \path (1127,487) node [plc] (n126) {p\sbs{126}};
    \path (667,352) node [plc] (l12) {t};

    \path (164,323) node [lbl] (i131) {IS\sbs{131}=[12,20]; \ q\sbs{131e}=\textbf{15}};
    \path (190,282) node [plc] (n131) {p\sbs{131}};
    \path (344,325) node [lbl] (i132) {IS\sbs{132}=[12,20]; q\sbs{132e}=\textbf{15}};
    \path (366,283) node [plc] (n132) {p\sbs{132}};
    \path (531,328) node [lbl] (i133) {IS\sbs{133}=[12,20]; q\sbs{133e}=\textbf{15}};
    \path (558,285) node [plc] (n133) {p\sbs{133}};
    \path (676,317) node [lbl] (i134) {IS\sbs{134}=[12,20];};
    \path (694,305) node [lbl] (q134) {q\sbs{134e}=\textbf{15}};
    \path (719,287) node [plc] (n134) {p\sbs{134}};
    \path (801,293) node [mach] (m6) {M\sbs{6}};
    \path (894,315) node [lbl] (i135) {IS\sbs{135e}=[12,20]; q\sbs{135e}=\textbf{15}};
    \path (920,287) node [plc] (n135) {p\sbs{135}};
    \path (1101,332) node [lbl] (i136) {IS\sbs{136}=[12,20]; q\sbs{136e}=\textbf{15}};
    \path (1135,268) node [plc] (n136) {p\sbs{136}};
    \path (676,189) node [plc] (l13) {t\sbs{13}};
    \path (648,153) node [lbl] (i14) {IS\sbs{14}=[5,15]};
    \path (670,137) node [lbl] (q14) {q\sbs{14e}=\textbf{10}};
    \path (709,132) node [plc] (n14) {p\sbs{14}};
    \path (678,72) node [plc] (l14) {t\sbs{14}};

    \path (463.5,942) node [distbox] (pass) {};
    \path (465,1022) node [distlbl] (passl) {Passive robustness\\margin on t\sbs{9}};

    \path (277,876) coordinate (a1) (225,868) coordinate (a2);
    \path (431,875) coordinate (a3) (379,863) coordinate (a4);
    \path (612,886) coordinate (a5) (571,863) coordinate (a6);
    \path (672,943) coordinate (a7) (672,929) coordinate (a8);
    \path (719,905) coordinate (a9) (730,871) coordinate (a10);
    \path (788,896) coordinate (a11) (842,875) coordinate (a12);
    \path (881,892) coordinate (a13) (976,877) coordinate (a14);
    \draw [dist] (a1) -- (a2);
    \draw [dist] (a3) -- (a4);
    \draw [dist] (a5) -- (a6);
    \draw [dist] (a7) -- (a8);
    \draw [dist] (a9) -- (a10);
    \draw [dist] (a11) -- (a12);
    \draw [dist] (a13) -- (a14);

    \path (120,695) coordinate (u1) (120,669) coordinate (u2);
    \path (325,695) coordinate (u3) (325,668) coordinate (u4);
    \path (548,705) coordinate (u5) (548,678) coordinate (u6);
    \path (737,705) coordinate (u7) (737,678) coordinate (u8);
    \path (944,687) coordinate (u9) (944,659) coordinate (u10);
    \path (1150,687) coordinate (u11) (1150,659) coordinate (u12);
    \draw [dist] (u1) -- (u2);
    \draw [dist] (u3) -- (u4);
    \draw [dist] (u5) -- (u6);
    \draw [dist] (u7) -- (u8);
    \draw [dist] (u9) -- (u10);
    \draw [dist] (u11) -- (u12);

    \path (222,658) coordinate (w1) (222,705) coordinate (w2);
    \path (428,667) coordinate (w3) (428,705) coordinate (w4);
    \path (633,677) coordinate (w5) (633,714) coordinate (w6);
    \path (840,687) coordinate (w7) (840,723) coordinate (w8);
    \path (1030,667) coordinate (w9) (1030,705) coordinate (w10);
    \path (1255,667) coordinate (w11) (1255,705) coordinate (w12);
    \draw [dist] (w1) -- (w2);
    \draw [dist] (w3) -- (w4);
    \draw [dist] (w5) -- (w6);
    \draw [dist] (w7) -- (w8);
    \draw [dist] (w9) -- (w10);
    \draw [dist] (w11) -- (w12);

    \path (205,449) coordinate (h1) (272,440) coordinate (h2);
    \path (429,440) coordinate (h3) (479,420) coordinate (h4);
    \path (565,458) coordinate (h5) (615,431) coordinate (h6);
    \path (737,467) coordinate (h7) (741,421) coordinate (h8);
    \path (875,419) coordinate (h9) (841,402) coordinate (h10);
    \path (944,401) coordinate (h11) (911,391) coordinate (h12);
    \draw [dist] (h1) -- (h2);
    \draw [dist] (h3) -- (h4);
    \draw [dist] (h5) -- (h6);
    \draw [dist] (h7) -- (h8);
    \draw [dist] (h9) -- (h10);
    \draw [dist] (h11) -- (h12);

    \path (1203,457) node [legcell] (lg1) {};
    \path (1238,457) node [legbrick] (lg2) {};
    \path (1272,457) node [legdiam] (lg3) {};
    \path (1205,429) node [leglbl] (lt1) {A place belonging to Trans\sbs{NC}};
    \path (1240,429) node [leglbl] (lt2) {A place belonging to Trans\sbs{C}};
    \path (1274,429) node [leglbl] (lt3) {A place belonging to R\sbs{U}};
    \path (1323.5,286.5) node [draw,rectangle,line width=1.5pt,minimum width=49pt,minimum height=385pt] (legbox) {};
    \path (1325,473) coordinate (la1) (1325,426) coordinate (la2);
    \draw [dist] (la1) -- (la2);
    \path (1322,417) node [leglbl] (lt4) {: Propagation of the disturbance};
\end{tikzpicture}
\end{document}
